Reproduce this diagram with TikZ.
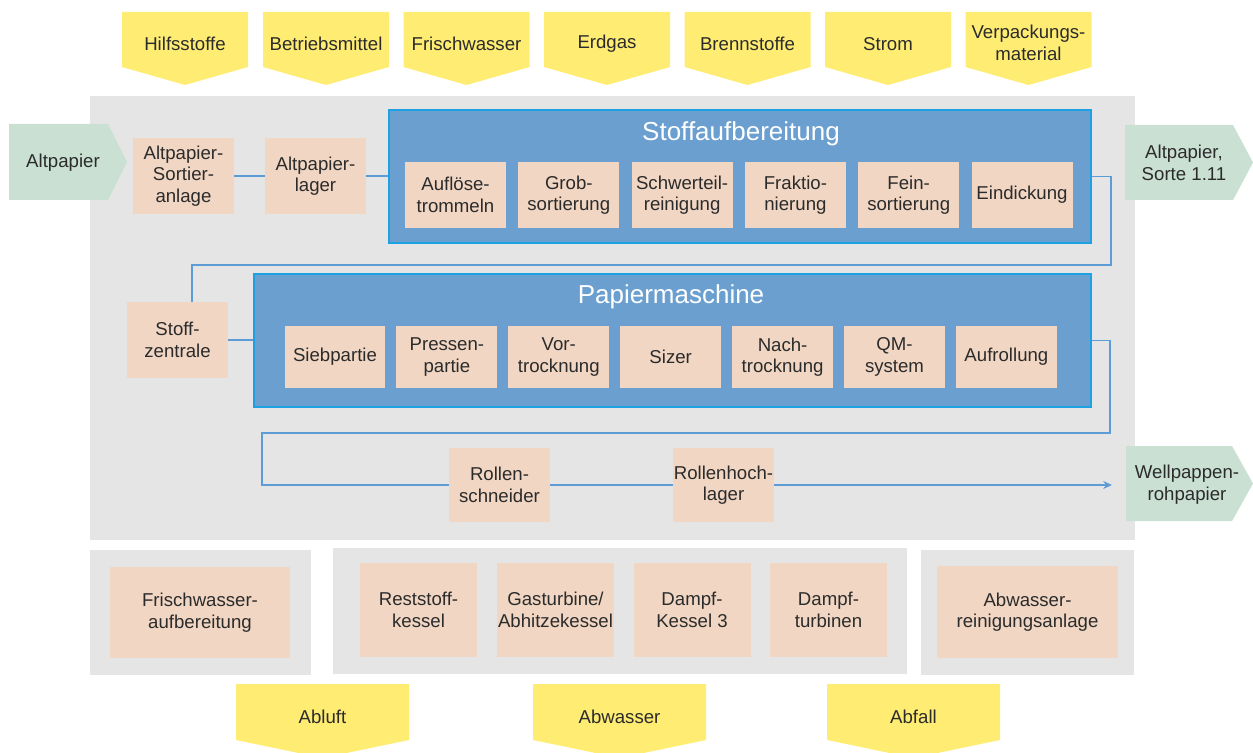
\documentclass[tikz,border=0pt]{standalone}
\usepackage{fontspec}
\setmainfont{Liberation Sans}
\usetikzlibrary{arrows.meta}

\definecolor{supplyyellow}{HTML}{FFEC73}
\definecolor{productgreen}{HTML}{C9E0D3}
\definecolor{procpeach}{HTML}{F0D6C3}
\definecolor{panelgray}{HTML}{E5E5E5}
\definecolor{stagefill}{HTML}{6A9FD0}
\definecolor{stageline}{HTML}{1DA1E2}
\definecolor{flowblue}{HTML}{5E9CD6}
\definecolor{textdark}{HTML}{2B2B2B}

\begin{document}
\begin{tikzpicture}[x=0.02cm, y=-0.02cm,
  every node/.style={font=\fontsize{10.6}{12.2}\selectfont, text=textdark, align=center},
  proc/.style={fill=procpeach, minimum width=2.02cm, minimum height=1.32cm, inner sep=0pt},
  stage/.style={fill=stagefill, draw=stageline, line width=1pt, inner sep=0pt},
  title/.style={font=\fontsize{14.8}{17}\selectfont, text=white},
  panel/.style={fill=panelgray},
  supply/.style={fill=supplyyellow},
  product/.style={fill=productgreen},
  flow/.style={draw=flowblue, line width=1.1pt}]

% page frame
\clip (0,0) rectangle (1253,753);

% inputs on top
\fill[supply] (122,12) -- ++(126,0) -- ++(0,55) -- ++(-63,18) -- ++(-63,-18) -- cycle;
\node (hilfs) at (185,44) {Hilfsstoffe};
\fill[supply] (263,12) -- ++(126,0) -- ++(0,55) -- ++(-63,18) -- ++(-63,-18) -- cycle;
\node (betrieb) at (326,44) {Betriebsmittel};
\fill[supply] (403.5,12) -- ++(126,0) -- ++(0,55) -- ++(-63,18) -- ++(-63,-18) -- cycle;
\node (frisch) at (466.5,44) {Frischwasser};
\fill[supply] (544,12) -- ++(126,0) -- ++(0,55) -- ++(-63,18) -- ++(-63,-18) -- cycle;
\node (erdgas) at (607,44) {Erdgas};
\fill[supply] (684.5,12) -- ++(126,0) -- ++(0,55) -- ++(-63,18) -- ++(-63,-18) -- cycle;
\node (brenn) at (747.5,44) {Brennstoffe};
\fill[supply] (825,12) -- ++(126,0) -- ++(0,55) -- ++(-63,18) -- ++(-63,-18) -- cycle;
\node (strom) at (888,44) {Strom};
\fill[supply] (965.5,12) -- ++(126,0) -- ++(0,55) -- ++(-63,18) -- ++(-63,-18) -- cycle;
\node (verpack) at (1028.5,43) {Verpackungs-\\material};

% the mill
\fill[panel] (90,96) rectangle (1135,540);

% raw material in, products out
\fill[product] (9,124) -- (108,124) -- (127,162) -- (108,200) -- (9,200) -- cycle;
\node (altin) at (63,163) {Altpapier};
\fill[product] (1125,125) -- (1233,125) -- (1253,162.5) -- (1233,200) -- (1125,200) -- cycle;
\node (sorte) at (1184,163) {Altpapier,\\Sorte 1.11};
\fill[product] (1126,446) -- (1232,446) -- (1253,483.5) -- (1232,521) -- (1126,521) -- cycle;
\node (wellout) at (1187,484.5) {Wellpappen-\\rohpapier};

% waste paper handling
\node[proc, minimum height=1.52cm] (sortier) at (183.5,176) {Altpapier-\\Sortier-\\anlage};
\node[proc, minimum height=1.52cm] (lager) at (315.5,176) {Altpapier-\\lager};

% stock preparation
\node[stage, minimum width=14.04cm, minimum height=2.66cm] (stoffauf) at (740,176.5) {};
\node[title] (stofftitle) at (741,134) {Stoffaufbereitung};
\node[proc] (aufloese) at (455.5,195) {Auflöse-\\trommeln};
\node[proc] (grob) at (568.8,195) {Grob-\\sortierung};
\node[proc] (schwer) at (682.1,195) {Schwerteil-\\reinigung};
\node[proc] (fraktio) at (795.4,195) {Fraktio-\\nierung};
\node[proc] (fein) at (908.7,195) {Fein-\\sortierung};
\node[proc] (eindick) at (1022,195) {Eindickung};

% stock centre and paper machine
\node[proc, minimum height=1.52cm] (zentrale) at (177.5,340) {Stoff-\\zentrale};
\coordinate (zentin) at (192,302);
\node[stage, minimum width=16.74cm, minimum height=2.66cm] (papier) at (672.5,340.5) {};
\node[title] (papiertitle) at (671,297) {Papiermaschine};
\node[proc, minimum height=1.24cm] (sieb) at (335,357) {Siebpartie};
\node[proc, minimum height=1.24cm] (pressen) at (446.9,357) {Pressen-\\partie};
\node[proc, minimum height=1.24cm] (vortr) at (558.8,357) {Vor-\\trocknung};
\node[proc, minimum height=1.24cm] (sizer) at (670.7,357) {Sizer};
\node[proc, minimum height=1.24cm] (nachtr) at (782.6,357) {Nach-\\trocknung};
\node[proc, minimum height=1.24cm] (qm) at (894.5,357) {QM-\\system};
\node[proc, minimum height=1.24cm] (aufroll) at (1006.4,357) {Aufrollung};

% finishing
\node[proc, minimum height=1.5cm] (schneider) at (499.5,485) {Rollen-\\schneider};
\node[proc, minimum height=1.5cm] (hoch) at (723.5,485) {Rollenhoch-\\lager};
\coordinate (wellin) at (1112,485);

% connections
\draw[flow] (sortier) -- (lager);
\draw[flow] (lager) -- (lager -| stoffauf.west);
\draw[flow] (stoffauf.east) -| (1111,265) -| (zentin);
\draw[flow] (zentrale) -- (zentrale -| papier.west);
\draw[flow] (papier.east) -| (1110,433) -| (262,485) -- (schneider);
\draw[flow] (schneider) -- (hoch);
\draw[flow, -{Stealth[length=5pt, width=4.5pt]}] (hoch) -- (wellin);

% utilities below
\fill[panel] (90,550) rectangle (311,675);
\node[proc, minimum width=3.6cm, minimum height=1.82cm] (fwaufb) at (200,612.5) {Frischwasser-\\aufbereitung};
\fill[panel] (333,548) rectangle (907,674);
\node[proc, minimum width=2.34cm, minimum height=1.88cm] (reststoff) at (418.5,610) {Reststoff-\\kessel};
\node[proc, minimum width=2.34cm, minimum height=1.88cm] (gasturb) at (555.5,610) {Gasturbine/\\Abhitzekessel};
\node[proc, minimum width=2.34cm, minimum height=1.88cm] (kessel) at (692,610) {Dampf-\\Kessel 3};
\node[proc, minimum width=2.34cm, minimum height=1.88cm] (dampft) at (828.5,610) {Dampf-\\turbinen};
\fill[panel] (921,550) rectangle (1134,675);
\node[proc, minimum width=3.62cm, minimum height=1.84cm] (ara) at (1027.5,612) {Abwasser-\\reinigungsanlage};

% outputs at the bottom
\fill[supply] (236,684) -- ++(173,0) -- ++(0,56) -- ++(-86.5,18) -- ++(-86.5,-18) -- cycle;
\node (abluft) at (322.5,717) {Abluft};
\fill[supply] (533,684) -- ++(173,0) -- ++(0,56) -- ++(-86.5,18) -- ++(-86.5,-18) -- cycle;
\node (abwasser) at (619.5,717) {Abwasser};
\fill[supply] (827,684) -- ++(173,0) -- ++(0,56) -- ++(-86.5,18) -- ++(-86.5,-18) -- cycle;
\node (abfall) at (913.5,717) {Abfall};

\end{tikzpicture}
\end{document}
